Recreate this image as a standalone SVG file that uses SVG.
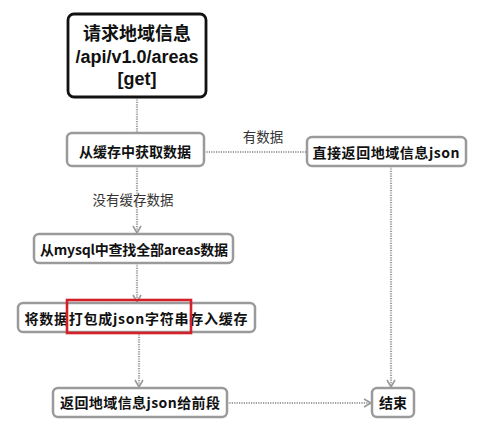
<svg xmlns="http://www.w3.org/2000/svg" width="499" height="434" viewBox="0 0 499 434">
<defs>
<marker id="arr" markerWidth="10" markerHeight="10" refX="8" refY="5" orient="auto" markerUnits="userSpaceOnUse">
<path d="M1,1 L8,5 L1,9" fill="none" stroke="#999" stroke-width="1.6"/>
</marker>
<style>
.box{fill:#fff;stroke:#9a9a9a;stroke-width:2.5}
.main{fill:#fff;stroke:#111;stroke-width:2.8}
.t{font-family:"Noto Sans CJK SC","Liberation Sans",sans-serif;font-weight:bold;font-size:14px;fill:#111;text-anchor:middle;dominant-baseline:central}
.tt{font-family:"Liberation Sans","Noto Sans CJK SC",sans-serif;font-weight:bold;font-size:18px;fill:#111;text-anchor:middle}
.lbl{font-family:"Noto Sans CJK SC",sans-serif;font-size:13.5px;fill:#333;text-anchor:middle;dominant-baseline:central}
.c{fill:none;stroke:#a0a0a0;stroke-width:2.2;stroke-dasharray:1.2 1.2}
</style>
</defs>
<rect width="499" height="434" fill="#fff"/>
<g id="connectors">
<path class="c" d="M137,97 V133"/>
<path class="c" d="M204,152 H307"/>
<path class="c" d="M137,166 V233" marker-end="url(#arr)"/>
<path class="c" d="M137,263 V302" marker-end="url(#arr)"/>
<path class="c" d="M139,332 V387" marker-end="url(#arr)"/>
<path class="c" d="M391,166 V387" marker-end="url(#arr)"/>
<path class="c" d="M227,403 H371" marker-end="url(#arr)"/>
<text class="lbl" x="263" y="136">有数据</text>
<text class="lbl" x="133" y="199">没有缓存数据</text>
</g>
<g id="start">
<rect class="main" x="68" y="14" width="138" height="83" rx="6"/>
<text class="tt" x="137" y="40" font-family="Noto Sans CJK SC, sans-serif">请求地域信息</text>
<text class="tt" x="137" y="63">/api/v1.0/areas</text>
<text class="tt" x="137" y="85">[get]</text>
</g>
<g id="cache">
<rect class="box" x="67" y="133" width="137" height="33" rx="5"/>
<text class="t" x="135" y="151" font-size="15.5">从缓存中获取数据</text>
</g>
<g id="direct">
<rect class="box" x="307" y="137" width="159" height="29" rx="5"/>
<text class="t" x="386" y="152" textLength="147" lengthAdjust="spacing">直接返回地域信息json</text>
</g>
<g id="mysql">
<rect class="box" x="34" y="234" width="199" height="29" rx="5"/>
<text class="t" x="134" y="249" textLength="188" lengthAdjust="spacing">从mysql中查找全部areas数据</text>
</g>
<g id="pack">
<rect class="box" x="18" y="303" width="237" height="29" rx="5"/>
<text class="t" x="136" y="318" textLength="223" lengthAdjust="spacing">将数据打包成json字符串存入缓存</text>
<rect x="67" y="300" width="124" height="33" fill="none" stroke="#d42028" stroke-width="2.6"/>
</g>
<g id="return">
<rect class="box" x="53" y="388" width="174" height="29" rx="5"/>
<text class="t" x="140" y="402" textLength="160" lengthAdjust="spacing">返回地域信息json给前段</text>
</g>
<g id="end">
<rect class="box" x="372" y="388" width="42" height="29" rx="5"/>
<text class="t" x="393" y="402">结束</text>
</g>
</svg>
